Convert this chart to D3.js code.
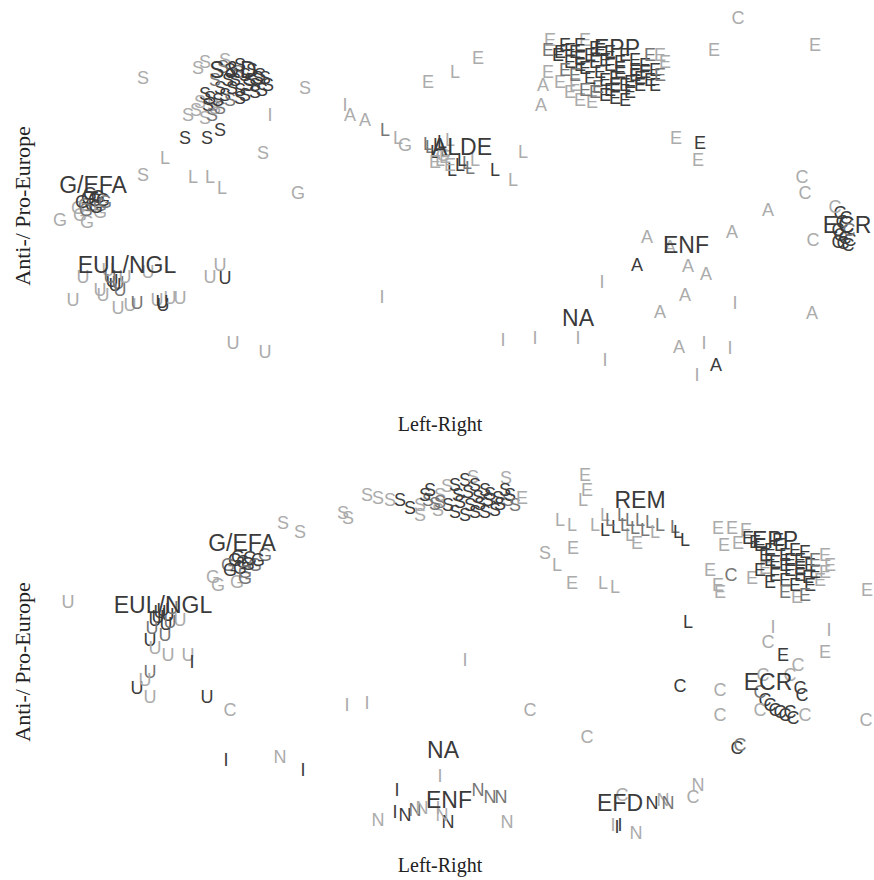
<!DOCTYPE html>
<html>
<head>
<meta charset="utf-8">
<script src="https://cdn.jsdelivr.net/npm/d3@7"></script>
<style>
  body { margin: 0; background: #fff; }
  svg { display: block; }
</style>
</head>
<body>
<div id="chart"></div>
<script>
// Each MEP point: [party letter, left-right score, anti/pro-Europe score, tone]
// tone: 0 = light, 1 = medium, 2 = dark
const topPoints = [
  ["S",14.3,32.2,0],["S",30.5,31.2,0],["S",26.3,24.7,0],["S",14.3,22.5,0],
  ["S",19.8,33.2,0],["S",20.5,33.8,0],["S",22.5,34,0],["S",21.3,29.5,0],["S",19.6,29,0],
  ["S",18.8,28.5,0],["S",20.5,28.2,0],["S",21.5,29.2,0],["S",20,29.8,0],
  ["S",23,33,2],["S",24.5,32.5,2],["S",25.5,31.5,2],["S",26.2,31,2],["S",24,31,2],
  ["S",22.5,30.5,2],["S",25,32,2],["S",23.5,32,2],["S",20.8,29.5,2],["S",21,30.2,2],
  ["S",22,31.2,2],["S",24.5,30.5,2],["S",25.8,32.2,2],["S",23.8,32.8,1],["S",23,30,1],
  ["S",21.2,28.5,1],["S",22,29.2,1],
  ["S",24,33.5,2],["S",25.2,33,2],["S",26,32.5,2],["S",26.8,31.5,2],["S",24.8,31.5,2],
  ["S",23.2,31.2,2],["S",22.8,32,2],["S",24,30.2,2],["S",25.5,30.8,2],["S",21.8,30,2],
  ["S",20.5,30.6,2],["S",21.5,32,1],["S",22.3,33.3,1],["S",26.5,32.2,2],
  ["S",18.5,26.2,2],["S",20.7,26.2,2],["S",22,27,2],
  ["L",16.5,24.2,0],["L",19.3,22.3,0],["L",21,22.3,0],["L",22.2,21.2,0],["L",45.5,32.8,0],
  ["L",38.5,27,1],["L",39.8,26.2,0],
  ["L",43,25.3,1],["L",43.8,25.5,2],["L",44.5,25,1],["L",45,26,0],["L",45.2,23,2],
  ["L",46,23.5,2],["L",46.7,23.7,1],["L",47.5,24,0],["L",49.5,23,2],["L",52.3,24.8,0],
  ["L",51.3,22,0],["L",44,24,0],["E",44.5,24.3,0],
  ["L",43.5,24.8,2],["L",44.2,25.8,2],["L",42.8,25.6,1],["L",46.2,24,2],["L",47,23.2,1],
  ["E",43.5,23.8,0],["E",45,23.5,0],["G",44.3,24.5,0],
  ["G",40.5,25.5,0],["G",29.8,20.7,0],
  ["G",8.8,20.2,2],["G",9.5,20,2],["G",9.2,19.5,2],["G",9.8,20.3,2],["G",8.5,19.5,1],
  ["G",10,19.5,1],["G",6,18,0],["G",8,18.5,0],["G",8.7,17.8,0],["G",10,18.8,0],["G",7.8,19.2,0],
  ["G",9,20.6,2],["G",10.3,20,2],["G",8.2,19.8,2],["G",9.6,19.3,2],["G",10.5,19.8,1],["G",8.6,19,1],
  ["A",35,28.5,0],["A",36.5,28,0],["A",54.3,31.5,0],["A",54.1,29.5,0],["A",76.8,19,0],
  ["A",73.2,16.8,0],["A",64.7,16.3,0],["A",63.7,13.5,2],["A",68.8,13.4,0],["A",70.6,12.6,0],
  ["A",68.5,10.5,0],["A",66,8.8,0],["A",81.2,8.7,0],["A",67.9,5.3,0],["A",71.6,3.5,2],["A",67,15.3,0],
  ["E",42.8,31.8,0],["E",47.8,34.2,0],["E",71.4,35,0],["E",81.5,35.5,0],["E",67.6,26.2,0],
  ["E",70,25.7,2],["E",69.8,24,0],
  ["E",54.8,32.8,0],["E",56,31.8,0],["E",57,30.8,0],["E",58,30,0],["E",59.2,29.8,0],
  ["E",66,34.5,0],["E",66.5,33.8,0],["E",55,36,0],["E",58.5,36,0],["E",57.5,31.5,0],
  ["E",56.5,35.5,2],["E",57.5,34.8,2],["E",59,34.5,2],["E",60.5,34,2],["E",62,33.8,2],
  ["E",63.5,34,2],["E",64.5,33.5,2],["E",65.5,33,2],["E",65,32,2],["E",64,31.5,2],
  ["E",62.5,31.5,2],["E",61.5,32.2,2],["E",60,32.8,2],["E",58.5,33.2,2],["E",57,33.8,2],
  ["E",55.8,34.5,2],["E",61,31,2],["E",63,30.8,2],["E",58,34.2,2],["E",59.5,35.2,2],
  ["E",54.8,35,1],["E",62,32.8,2],["E",63.5,32.5,2],["E",64.5,32.8,2],["E",60.5,30.5,2],
  ["E",59.8,31.3,1],
  ["E",56,34.8,2],["E",57,35,2],["E",58,35.5,2],["E",60,35,2],["E",61,34.8,2],["E",62.5,34.5,2],
  ["E",61,33.5,2],["E",59.5,33.8,2],["E",58,33.5,2],["E",56.5,33,1],["E",57.5,32.5,1],
  ["E",59,32.2,2],["E",60.5,32,2],["E",61.5,31.5,2],["E",63,31.8,2],["E",64,32.2,2],
  ["E",65.5,31.5,2],["E",66,32.5,1],["E",65,34.5,1],["E",62.5,30,2],["E",61.5,30.2,2],
  ["E",59.5,30.8,1],["E",58.5,31,1],["E",63.5,33,2],["E",62,33.2,2],
  ["C",73.8,38.2,0],["C",80.2,22.3,0],["C",80.5,20.7,0],["C",81.3,16,0],
  ["C",84,18.7,2],["C",83.8,17,2],["C",84.5,16.2,2],["C",84.8,15.5,2],["C",84.3,15.7,2],["C",83.5,19.3,0],
  ["C",84.2,17.8,2],["C",84,16.5,2],["C",85,16,2],["C",84.6,18.2,2],["C",83.8,15.8,2],["C",84.9,17,1],
  ["U",8.3,12.3,0],["U",10,11,0],["U",11.2,11.9,2],["U",11.8,11.7,1],["U",12.5,12.3,0],
  ["U",14.8,12.8,0],["U",21,12.3,0],["U",22.5,12.2,2],["U",22,13.5,0],["U",7.3,10,0],
  ["U",10.3,10.5,0],["U",11.8,9.2,0],["U",13,9.5,0],["U",13.7,9.7,1],["U",15.7,10,0],
  ["U",16.3,9.5,2],["U",17,10.2,0],["U",18,10.2,0],["U",23.3,5.7,0],["U",26.5,4.8,0],["U",10.8,13,0],
  ["U",11.5,11.5,2],["U",11,12.3,1],["U",12,11,1],["U",16.2,9.8,2],
  ["I",27,28.5,0],["I",34.5,29.5,0],["I",38.2,10.3,0],["I",50.3,6,0],["I",53.5,6.2,0],
  ["I",57.8,6.2,0],["I",60.5,4,0],["I",60.2,11.8,0],["I",70.4,5.7,0],["I",73,5.2,0],
  ["I",69.7,2.5,0],["I",73.5,9.7,0]
];

const topLabels = [
  ["S&D",23.3,33],["EPP",61.7,35.2],["ALDE",46.2,25.3],["G/EFA",9.3,21.5],
  ["EUL/NGL",12.7,13.5],["ECR",84.7,17.5],["ENF",68.6,15.5],["NA",57.8,8.2]
];

const bottomPoints = [
  ["S",28.3,31.7,0],["S",30,30.8,0],["S",34.3,32.7,0],["S",34.8,32.2,0],["S",36.7,34.5,0],
  ["S",37.8,34.2,0],["S",39,34,0],["S",40,34,2],["S",41,33.2,2],["S",42,33.5,0],["S",42.8,34,1],
  ["S",43,35,2],["S",44,34.5,0],["S",44.8,33.5,2],["S",45.8,34.5,2],["S",46.8,34.8,2],
  ["S",47.8,34.3,2],["S",48.8,34,2],["S",49.8,34.2,2],["S",50.8,34,1],["S",46.5,36,2],
  ["S",47.3,36.3,0],["S",50.6,36.2,0],["S",44.7,35.4,0],["S",45.5,32.8,2],["S",46.5,32.5,2],
  ["S",47.5,32.8,2],["S",43.8,33,0],["S",42,32.5,0],["S",48.5,35,2],["S",54.5,28.7,0],
  ["S",49,34.6,2],["S",50,33.6,2],["S",51,34.5,2],["S",49.5,33,2],["S",48,33.6,2],
  ["S",47,33.5,2],["S",46,33.8,2],["S",45.5,35.5,2],["S",47.5,35.5,2],["S",50.5,35,2],
  ["S",51.5,33.5,1],["S",48.5,32.8,2],["S",44,33.8,1],["S",42.5,34.5,2],["S",43.5,33.6,1],
  ["E",52.2,34.2,0],["E",58.5,36.5,0],["E",58.7,35,0],["E",57.3,29.2,0],["E",63.7,29.7,0],
  ["E",57.2,25.7,0],["E",86.7,25,0],["E",78.3,18.5,2],["E",82.5,18.8,0],
  ["E",71.8,31.2,0],["E",73.2,31.2,0],["E",74.6,31,0],["E",72.4,29.5,0],["E",73.8,29.7,0],
  ["E",71,27,0],["E",75.2,26.2,0],["E",71.8,25.5,0],["E",72,24.8,0],["E",82.5,28.5,0],
  ["E",82,26,0],["E",79.7,24.3,0],["E",76.5,27.2,0],
  ["E",74.8,30.2,2],["E",76,29.5,2],["E",77,29,2],["E",78.5,28.5,2],["E",80,28,2],
  ["E",81,27.5,2],["E",79,27,2],["E",77.5,26.5,2],["E",80,26.5,2],["E",76.5,28.5,2],
  ["E",78,29.5,2],["E",79.5,29,2],["E",77.5,27.8,2],["E",80.8,26.3,2],["E",78.5,26,2],
  ["E",75.5,29.8,2],["E",77,28,2],["E",78.5,27.5,2],["E",80,27.2,2],["E",81.5,26.8,2],
  ["E",79.5,25.5,2],["E",81,25.5,2],["E",77,25.8,2],["E",76,27,2],["E",80.5,28.8,2],
  ["E",81.5,28,1],["E",79,28,2],["E",77.8,30,2],["E",78.5,24.8,1],["E",80.5,24.5,1],
  ["E",82.5,26.8,0],["E",83,27.5,0],
  ["L",56,32,0],["L",57.2,31.5,0],["L",60.5,31,2],["L",61.6,31.3,2],["L",62.2,32.5,1],
  ["L",63,32,1],["L",64,32,1],["L",65,31.8,1],["L",66,31.5,1],["L",67.5,31.3,1],
  ["L",67.8,30.8,2],["L",68.5,30,2],["L",55.7,27.5,0],["L",60.3,25.7,0],["L",61.5,25.3,0],
  ["L",68.8,21.8,2],["L",60.5,32.5,0],["L",58.3,34,0],["L",63,30.5,0],
  ["L",62.5,31.5,1],["L",64.5,31,1],["L",61,32,1],["L",63.5,31.2,1],["L",65.5,30.8,0],["L",59.5,31.5,0],
  ["G",26.5,28.5,1],["G",21.3,26.3,0],["G",21.8,25.5,0],["G",23.7,25.8,0],["G",24.5,26.2,1],
  ["G",23.5,28,2],["G",24.3,27.8,2],["G",25,28.2,2],["G",24,27.2,2],["G",22.8,27.5,1],["G",25.5,27.5,1],
  ["G",23.8,28.3,2],["G",24.8,27.6,2],["G",23,27,2],["G",25.8,28,2],["G",24.5,26.8,1],
  ["U",6.8,23.8,0],["U",16,22.8,2],["U",16.8,22.5,2],["U",15.5,22,2],["U",17.2,23.2,1],
  ["U",15,20,2],["U",16.5,20.5,1],["U",15.5,19.2,0],["U",16.8,18.5,0],["U",18.8,18.5,0],
  ["U",15,16.8,1],["U",13.7,15.2,2],["U",15,14.3,0],["U",14.5,16,0],["U",20.7,14.3,2],["U",18,22,0],
  ["U",16.3,23,2],["U",15.8,22.3,2],["U",16.6,21.6,2],["U",15.2,21.2,1],["U",17,21.8,1],
  ["I",19.2,17.8,2],["I",34.7,13.5,0],["I",36.7,13.7,0],["I",22.6,8,2],["I",30.3,7,2],
  ["I",39.7,5,2],["I",44,6.4,0],["I",46.5,18,0],["I",62,1.5,2],["I",61.7,1.3,2],["I",61.3,1.5,0],
  ["I",77.3,21.3,0],["I",82.9,21,0],["I",39.5,2.8,2],["I",43.8,3.2,0],
  ["C",23,13,0],["C",53,13,0],["C",58.7,10.3,0],["C",68,15.4,2],["C",72,15,0],["C",72,12.5,0],
  ["C",76.8,19.8,0],["C",76.3,16.5,0],["C",79,16.5,0],["C",79.8,17.5,0],["C",76.5,14,2],
  ["C",77.5,13,2],["C",78.5,12.5,2],["C",79.3,12.2,2],["C",80,15.2,2],["C",80.5,12.5,0],
  ["C",86.6,12,0],["C",73.7,9.2,2],["C",74,9.5,1],["C",69.3,4.3,0],["C",73.1,26.5,1],
  ["C",76,13,0],["C",62.2,4.5,0],
  ["C",77,13.5,2],["C",78,12.8,2],["C",79,12.8,2],["C",76,14.8,1],["C",80.2,14.5,2],
  ["N",28,8.3,0],["N",37.8,2,0],["N",40.5,2.5,2],["N",41.5,3,1],["N",42.2,3.2,0],
  ["N",47.8,5,1],["N",49,4.3,1],["N",50.1,4.3,1],["N",44.8,1.8,2],["N",44.2,2.5,0],
  ["N",50.7,1.8,0],["N",65.2,3.7,2],["N",66.3,4,0],["N",66.8,3.7,1],["N",63.6,0.7,0],["N",69.8,5.5,0]
];

const bottomLabels = [
  ["REM",64,34],["EPP",77.5,30],["G/EFA",24.2,29.7],["EUL/NGL",16.3,23.5],
  ["ECR",76.8,15.8],["NA",44.3,9],["ENF",44.9,4],["EFD",62,3.7]
];

const xTitle = "Left-Right";
const yTitle = "Anti-/ Pro-Europe";

const width = 874, height = 880;
const toneColor = ["#ababab", "#777777", "#3c3c3c"];

const svg = d3.select("#chart").append("svg")
  .attr("width", width)
  .attr("height", height);

const x = d3.scaleLinear().domain([0, 87.4]).range([0, 874]);

function drawPanel(points, labels, y, xTitleY, yTitleY) {
  const g = svg.append("g");

  g.selectAll("text.pt")
    .data(points)
    .join("text")
      .attr("class", "pt")
      .attr("x", d => x(d[1]))
      .attr("y", d => y(d[2]))
      .attr("text-anchor", "middle")
      .attr("dominant-baseline", "central")
      .attr("font-family", "Liberation Sans, Arial, sans-serif")
      .attr("font-size", 18)
      .attr("fill", d => toneColor[d[3]])
      .text(d => d[0]);

  g.selectAll("text.grp")
    .data(labels)
    .join("text")
      .attr("class", "grp")
      .attr("x", d => x(d[1]))
      .attr("y", d => y(d[2]))
      .attr("text-anchor", "middle")
      .attr("dominant-baseline", "central")
      .attr("font-family", "Liberation Sans, Arial, sans-serif")
      .attr("font-size", 23)
      .attr("fill", "#3a3a3a")
      .text(d => d[0]);

  // axis titles
  g.append("text")
    .attr("x", 440)
    .attr("y", xTitleY)
    .attr("text-anchor", "middle")
    .attr("font-family", "Liberation Serif, serif")
    .attr("font-size", 20)
    .attr("fill", "#222")
    .text(xTitle);

  g.append("text")
    .attr("transform", "translate(22," + yTitleY + ") rotate(-90)")
    .attr("text-anchor", "middle")
    .attr("dominant-baseline", "central")
    .attr("font-family", "Liberation Serif, serif")
    .attr("font-size", 22)
    .attr("fill", "#222")
    .text(yTitle);
}

const yTop = d3.scaleLinear().domain([0, 40]).range([400, 0]);
const yBottom = d3.scaleLinear().domain([0, 40]).range([840, 440]);

drawPanel(topPoints, topLabels, yTop, 431, 206);
drawPanel(bottomPoints, bottomLabels, yBottom, 872, 662);
</script>
</body>
</html>
